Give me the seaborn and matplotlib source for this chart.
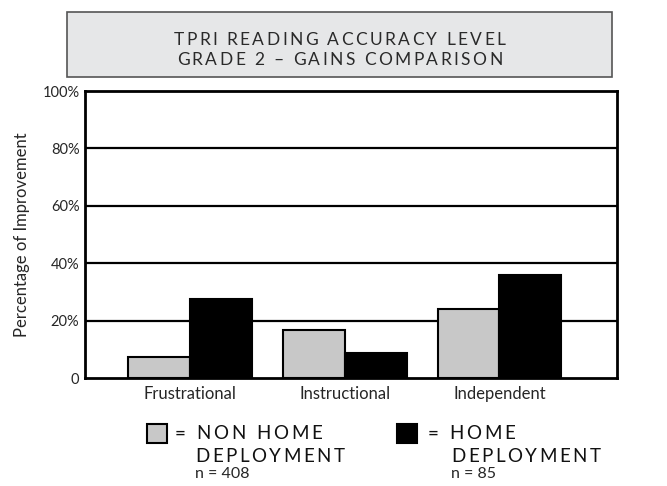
import matplotlib
matplotlib.use("Agg")
import matplotlib.pyplot as plt
import matplotlib.patches as mpatches
import pandas as pd
import seaborn as sns

levels = ["Frustrational", "Instructional", "Independent"]
groups = ["NON HOME DEPLOYMENT", "HOME DEPLOYMENT"]
non_home = [7.3, 16.7, 24.0]
home = [27.5, 8.7, 35.9]
group_n = [408, 85]
yticks = [0, 20, 40, 60, 80, 100]
ytick_labels = ["0", "20%", "40%", "60%", "80%", "100%"]

df = pd.DataFrame({
    "level": levels * 2,
    "group": [groups[0]] * 3 + [groups[1]] * 3,
    "value": non_home + home,
})

sns.set_theme(style="white")
plt.rcParams["font.family"] = ["Lato", "DejaVu Sans"]

W, H = 667, 486
fig = plt.figure(figsize=(W / 100, H / 100), dpi=100)
ax = fig.add_axes([0.1274, 0.2222, 0.7976, 0.5905])
renderer = fig.canvas.get_renderer()


def text_width(s, **kw):
    t = fig.text(0, 0, s, **kw)
    w = t.get_window_extent(renderer).width
    t.remove()
    return w


def tracked(x, y, s, spacing, ha="left", **kw):
    # letter-spaced text, x/y in figure fraction, spacing in pixels
    wx = text_width("x", **kw)
    offs = [text_width(s[:i] + "x", **kw) - wx + i * spacing for i in range(len(s))]
    total = text_width(s, **kw) + (len(s) - 1) * spacing
    x0 = x * W - (total / 2 if ha == "center" else 0)
    for ch, o in zip(s, offs):
        fig.text((x0 + o) / W, y, ch, ha="left", va="center", **kw)


palette = {groups[0]: "#c8c8c8", groups[1]: "#000000"}
sns.barplot(data=df, x="level", y="value", hue="group", palette=palette,
            edgecolor="black", linewidth=1.5, width=0.8, saturation=1,
            legend=False, ax=ax, zorder=3)

ax.set_xlim(-0.68, 2.76)
ax.set_ylim(0, 100)
ax.set_yticks(yticks)
ax.set_yticklabels(ytick_labels, fontsize=10.5)
for y in yticks[1:-1]:
    ax.axhline(y, color="black", lw=1.6, zorder=1)
ax.tick_params(axis="both", length=0, pad=4)
ax.tick_params(axis="x", labelsize=12, pad=6)
ax.set_xlabel("")
ax.set_ylabel("Percentage of Improvement", fontsize=12, labelpad=9)
for s in ax.spines.values():
    s.set_visible(True)
    s.set_color("black")
    s.set_linewidth(2)

# title box
box = mpatches.Rectangle((0.1004, 0.8416), 0.817, 0.1337, transform=fig.transFigure,
                         facecolor="#e6e7e8", edgecolor="#555555", lw=1.2)
fig.patches.append(box)
tkw = dict(fontsize=12.5, color="#2a2a2a")
tracked(0.509, 0.918, "TPRI READING ACCURACY LEVEL", 2.4, ha="center", **tkw)
tracked(0.509, 0.876, "GRADE 2 \u2013 GAINS COMPARISON", 2.4, ha="center", **tkw)

# legend
lkw = dict(fontsize=13.5, color="#111111")
for i, (x0, xt, xd) in enumerate([(0.2204, 0.2624, 0.2924), (0.5952, 0.6412, 0.6762)]):
    sq = mpatches.Rectangle((x0, 0.088), 0.03, 0.039, transform=fig.transFigure,
                            facecolor=palette[groups[i]], edgecolor="black", lw=1.5)
    fig.patches.append(sq)
    first = groups[i].replace(" DEPLOYMENT", "")
    tracked(xt, 0.107, "= " + first, 2.8, **lkw)
    tracked(xd, 0.061, "DEPLOYMENT", 2.5, **lkw)
    fig.text(xd, 0.024, f"n = {group_n[i]}", ha="left", va="center", fontsize=11.5)

fig.savefig("out.png", dpi=100)
